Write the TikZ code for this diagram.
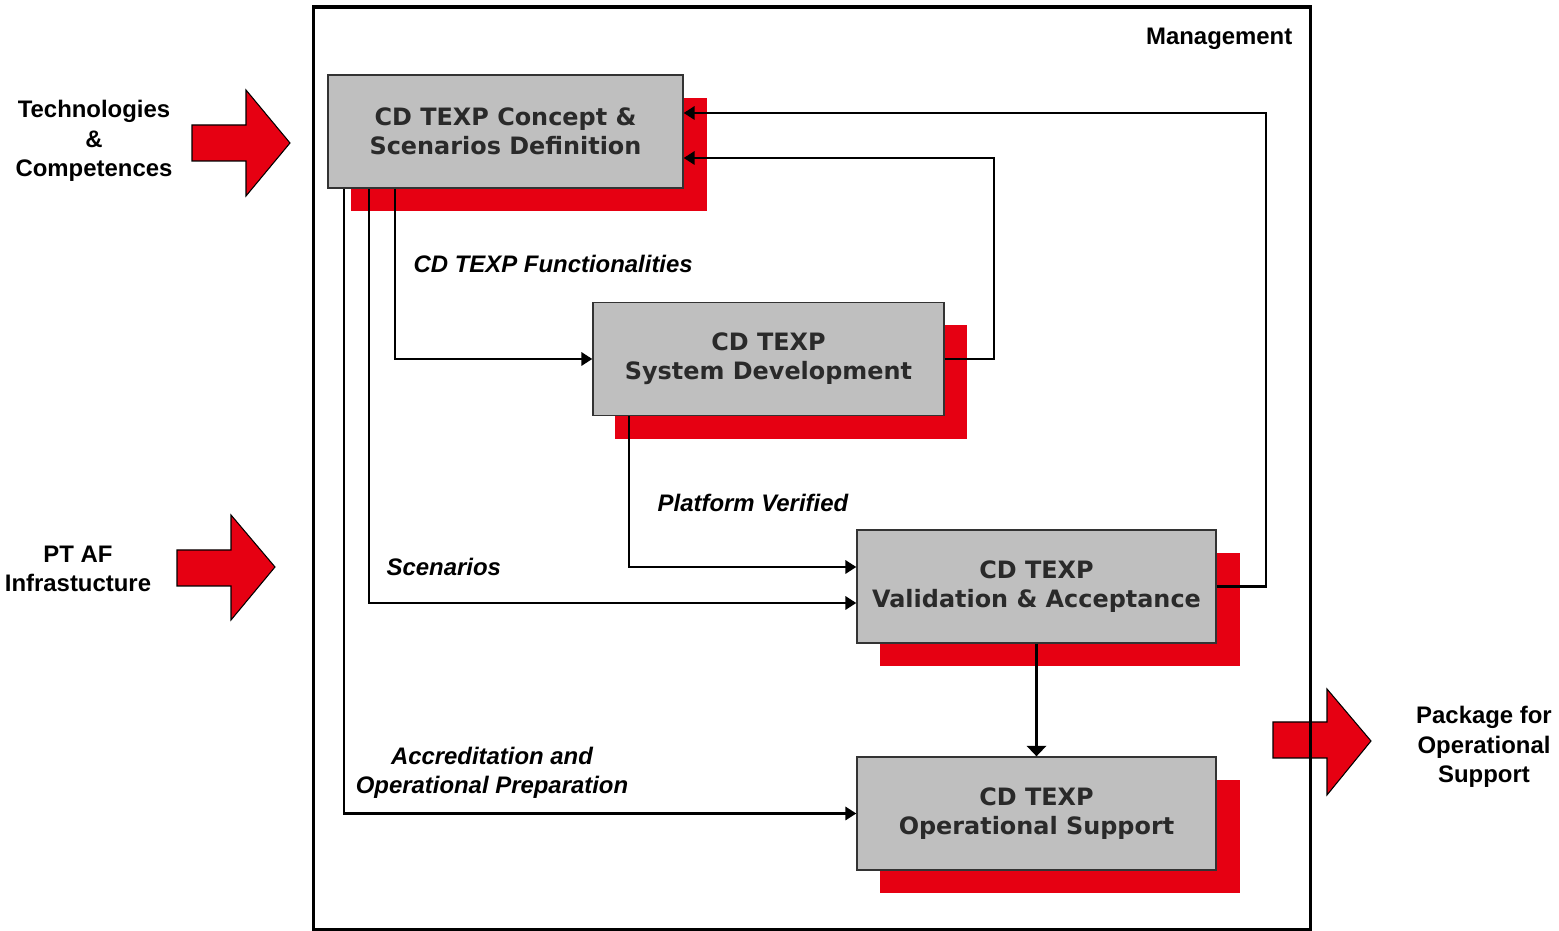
\documentclass[tikz,border=0pt]{standalone}
\usepackage{fontspec}
\setmainfont{Liberation Sans}
\newfontfamily\boxfont{DejaVu Sans}
\usetikzlibrary{arrows.meta,calc}
\definecolor{boxred}{HTML}{E60012}
\definecolor{boxgray}{HTML}{BFBFBF}
\definecolor{boxtext}{HTML}{2A2A2A}
\tikzset{
  procbox/.style={draw=black!80, line width=0.35pt, fill=boxgray, minimum width=#1, minimum height=1.13cm,
    inner sep=0pt, align=center, text=boxtext, font=\boxfont\bfseries\fontsize{6.8}{8.25}\selectfont},
  procbox/.default=3.55cm,
  shadowbox/.style={fill=boxred, draw=none},
  conn/.style={draw=black, line width=0.62pt, -{Triangle[length=3.1pt,width=3.8pt]}},
  flowlbl/.style={font=\bfseries\itshape\fontsize{6.8}{8.4}\selectfont, inner sep=0pt, align=center},
  sidelbl/.style={font=\bfseries\fontsize{6.8}{8.3}\selectfont, inner sep=0pt, align=center},
  blockarrow/.style={fill=boxred, draw=black, line width=0.3pt},
}
\begin{document}
\begin{tikzpicture}[x=0.01cm, y=-0.01cm]
\useasboundingbox (0,0) rectangle (1559,931);
% shadows
\fill[shadowbox] (351,98) rectangle (707,211);
\fill[shadowbox] (615,325) rectangle (967,439);
\fill[shadowbox] (880,553) rectangle (1240,666);
\fill[shadowbox] (880,780) rectangle (1240,893);
% boxes
\node[procbox=3.55cm] (b1) at (505.5,131.5) {CD TEXP Concept \&\\Scenarios Definition};
\node[procbox=3.51cm] (b2) at (768.5,359) {CD TEXP\\System Development};
\node[procbox=3.59cm] (b3) at (1036.5,586.5) {CD TEXP\\Validation \& Acceptance};
\node[procbox=3.59cm] (b4) at (1036.5,813.5) {CD TEXP\\Operational Support};
% connectors
\draw[conn] ($(b1.south west)+(68,0)$) |- (b2.west);
\draw[conn] ($(b1.south west)+(42,0)$) |- ($(b3.west)+(0,16.5)$);
\draw[conn] ($(b1.south west)+(17,0)$) |- (b4.west);
\draw[conn] ($(b2.south west)+(37,0)$) |- ($(b3.west)+(0,-19.5)$);
\draw[conn] (b2.east) -- ++(49,0) |- ($(b1.east)+(0,26.5)$);
\draw[conn] (b3.east) -- ++(49,0) |- ($(b1.east)+(0,-18.5)$);
\draw[draw=black, line width=1pt, -{Triangle[length=3pt,width=5.5pt]}] (b3.south) -- (b4.north);
% labels
\node[flowlbl, anchor=west] (l1) at (413,264) {CD TEXP Functionalities};
\node[flowlbl, anchor=west] (l2) at (657,503) {Platform Verified};
\node[flowlbl, anchor=west] (l3) at (386,567) {Scenarios};
\node[flowlbl] (l4) at (492,773) {Accreditation and\\Operational Preparation};
% block arrows
\filldraw[blockarrow] (192,125) -- (246,125) -- (246,90) -- (290,143) -- (246,196) -- (246,161) -- (192,161) -- cycle;
\filldraw[blockarrow] (177,550) -- (231,550) -- (231,515) -- (275,567) -- (231,620) -- (231,586) -- (177,586) -- cycle;
\filldraw[blockarrow] (1273,722) -- (1327,722) -- (1327,689) -- (1371,741) -- (1327,795) -- (1327,758) -- (1273,758) -- cycle;
% outer frame
\draw[line width=0.9pt] (313.5,7) rectangle (1310.5,929.5);
\node[sidelbl, anchor=east] (mg) at (1293,39) {Management};
\node[sidelbl] (t1) at (94,141) {Technologies\\\&\\Competences};
\node[sidelbl] (t2) at (78,569) {PT AF\\Infrastucture};
\node[sidelbl] (t3) at (1484,747) {Package for\\Operational\\Support};
\end{tikzpicture}
\end{document}
